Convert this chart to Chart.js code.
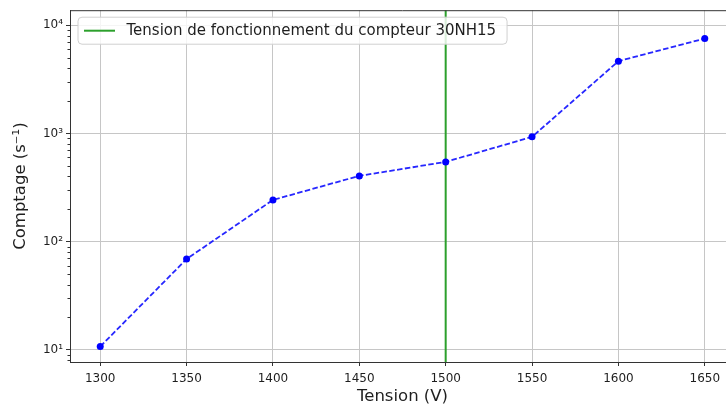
<!DOCTYPE html>
<html>
<head>
<meta charset="utf-8">
<script src="https://cdn.jsdelivr.net/npm/chart.js@4/dist/chart.umd.min.js"></script>
<style>
  html, body { margin: 0; padding: 0; background: #fff; overflow: hidden; }
  #wrap { width: 760px; height: 405px; }
</style>
</head>
<body>
<div id="wrap"><canvas id="c" width="760" height="405"></canvas></div>
<script>
// Measured counting rate versus tube voltage
const tensions  = [1300, 1350, 1400, 1450, 1500, 1550, 1600, 1650];
const comptages = [10.7, 69, 243, 405, 546, 930, 4660, 7550];

// Operating voltage of the 30NH15 counter
const tensionFonctionnement = 1500;
const legendLabel = 'Tension de fonctionnement du compteur 30NH15';

// Axis ranges and tick positions
const xRange = [1282.5, 1667.5];
const xTicks = [1300, 1350, 1400, 1450, 1500, 1550, 1600, 1650];
const yRange = [7.7, 13800];
const yDecades = [1, 10, 100, 1000, 10000];

const supDigits = { '0': '⁰', '1': '¹', '2': '²', '3': '³', '4': '⁴', '5': '⁵', '6': '⁶', '7': '⁷', '8': '⁸', '9': '⁹' };
const isDecade = v => Math.abs(Math.log10(v) - Math.round(Math.log10(v))) < 1e-9;
const powLabel = v => '10' + String(Math.round(Math.log10(v))).split('').map(d => supDigits[d]).join('');

// Every log tick (1..9 x 10^n) inside the visible range
const yTicks = [];
yDecades.forEach(d => { for (let k = 1; k <= 9; k++) { const v = k * d; if (v >= yRange[0] && v <= yRange[1]) yTicks.push(v); } });

const FONT = "'DejaVu Sans', sans-serif";
const SPINE = '#333333';
const GRID = '#c6c6c6';
const TXT = '#1e1e1e';

// Top spine, short minor ticks, and the framed legend inside the plot
const decorations = {
  id: 'decorations',
  afterDraw(chart) {
    const { ctx, chartArea: a, scales } = chart;
    ctx.save();
    ctx.strokeStyle = SPINE;
    ctx.lineWidth = 1;
    ctx.beginPath();
    ctx.moveTo(a.left, a.top + 0.5);
    ctx.lineTo(a.right, a.top + 0.5);
    ctx.moveTo(a.right - 0.5, a.top);
    ctx.lineTo(a.right - 0.5, a.bottom);
    ctx.stroke();

    // minor ticks on the log axis
    ctx.beginPath();
    yTicks.filter(v => !isDecade(v)).forEach(v => {
      const y = Math.round(scales.y.getPixelForValue(v)) + 0.5;
      ctx.moveTo(a.left - 2.5, y);
      ctx.lineTo(a.left, y);
    });
    ctx.stroke();

    // legend
    const ds = chart.data.datasets[1];
    ctx.font = '15px ' + FONT;
    const tw = ctx.measureText(ds.label).width;
    const bx = a.left + 8, by = a.top + 7, bw = 48.5 + tw + 11, bh = 27, r = 4;
    ctx.beginPath();
    ctx.moveTo(bx + r, by);
    ctx.lineTo(bx + bw - r, by);
    ctx.arcTo(bx + bw, by, bx + bw, by + r, r);
    ctx.lineTo(bx + bw, by + bh - r);
    ctx.arcTo(bx + bw, by + bh, bx + bw - r, by + bh, r);
    ctx.lineTo(bx + r, by + bh);
    ctx.arcTo(bx, by + bh, bx, by + bh - r, r);
    ctx.lineTo(bx, by + r);
    ctx.arcTo(bx, by, bx + r, by, r);
    ctx.closePath();
    ctx.fillStyle = 'rgba(255,255,255,0.82)';
    ctx.fill();
    ctx.strokeStyle = '#d0d0d0';
    ctx.lineWidth = 1;
    ctx.stroke();

    const ly = by + bh / 2;
    ctx.strokeStyle = ds.borderColor;
    ctx.lineWidth = ds.borderWidth;
    ctx.beginPath();
    ctx.moveTo(bx + 6, ly);
    ctx.lineTo(bx + 37, ly);
    ctx.stroke();

    ctx.fillStyle = TXT;
    ctx.textBaseline = 'middle';
    ctx.textAlign = 'left';
    ctx.fillText(ds.label, bx + 48.5, ly + 0.5);
    ctx.restore();
  }
};

new Chart(document.getElementById('c'), {
  type: 'line',
  data: {
    datasets: [
      {
        label: 'Comptage',
        data: tensions.map((t, i) => ({ x: t, y: comptages[i] })),
        borderColor: 'rgba(15,15,255,0.9)',
        borderWidth: 1.8,
        borderDash: [5.5, 2.4],
        pointRadius: 3.5,
        pointBackgroundColor: '#0000ff',
        pointBorderWidth: 0,
        pointHoverRadius: 3.5,
        fill: false,
        tension: 0
      },
      {
        label: legendLabel,
        data: [{ x: tensionFonctionnement, y: yRange[0] }, { x: tensionFonctionnement, y: yRange[1] }],
        borderColor: '#2ca02c',
        borderWidth: 2,
        pointRadius: 0,
        fill: false
      }
    ]
  },
  options: {
    responsive: false,
    animation: false,
    devicePixelRatio: 1,
    layout: { padding: { top: 10, right: 25, left: 0, bottom: 0 } },
    plugins: { legend: { display: false }, tooltip: { enabled: false } },
    scales: {
      x: {
        type: 'linear',
        min: xRange[0],
        max: xRange[1],
        afterBuildTicks: s => { s.ticks = xTicks.map(v => ({ value: v })); },
        afterFit: s => { s.height = 43; },
        ticks: {
          autoSkip: false,
          maxRotation: 0,
          padding: 6,
          color: TXT,
          font: { family: FONT, size: 12 },
          callback: v => String(v)
        },
        grid: { color: GRID, lineWidth: 1, tickLength: 4, tickColor: SPINE },
        border: { color: SPINE, width: 1 },
        title: {
          display: true,
          text: 'Tension (V)',
          color: TXT,
          font: { family: FONT, size: 16.5 },
          padding: { top: 0, bottom: -2 }
        }
      },
      y: {
        type: 'logarithmic',
        min: yRange[0],
        max: yRange[1],
        afterBuildTicks: s => { s.ticks = yTicks.map(v => ({ value: v, major: isDecade(v) })); },
        afterFit: s => { s.width = 70; },
        ticks: {
          autoSkip: false,
          padding: 3,
          color: TXT,
          font: { family: FONT, size: 12 },
          callback: v => isDecade(v) ? powLabel(v) : ''
        },
        grid: {
          color: c => (c.tick && isDecade(c.tick.value)) ? GRID : 'rgba(0,0,0,0)',
          tickColor: c => (c.tick && isDecade(c.tick.value)) ? SPINE : 'rgba(0,0,0,0)',
          lineWidth: 1,
          tickLength: 4
        },
        border: { color: SPINE, width: 1 },
        title: {
          display: true,
          text: 'Comptage (s⁻¹)',
          color: TXT,
          font: { family: FONT, size: 16.5 },
          padding: { top: 11, bottom: 0 }
        }
      }
    }
  },
  plugins: [decorations]
});
</script>
</body>
</html>
